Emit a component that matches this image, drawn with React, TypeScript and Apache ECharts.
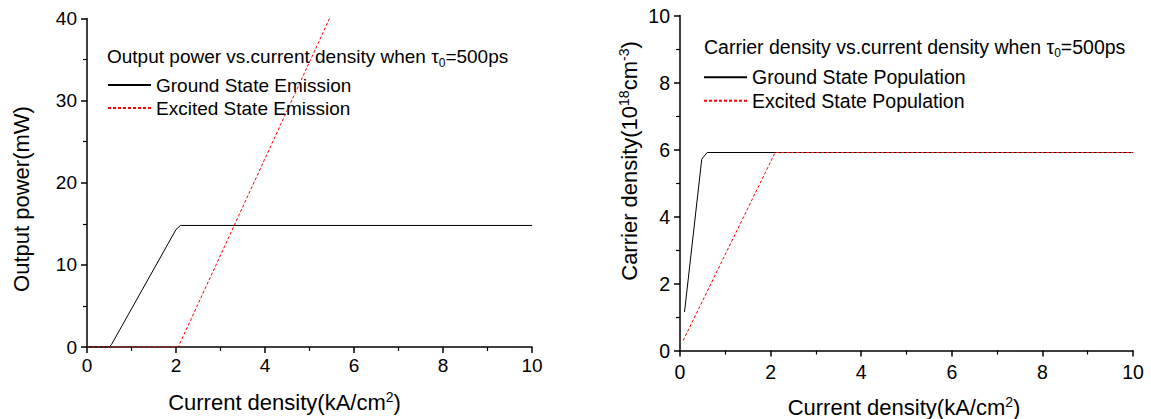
import React, { useEffect, useRef } from "react";
import * as echarts from "echarts";

// Left panel: output power (mW) vs current density (kA/cm²)
const groundEmissionJ = [0, 0.5, 0.55, 2.0, 2.1, 10];
const groundEmissionP = [0, 0, 0.3, 14.3, 14.8, 14.8];
const excitedEmissionJ = [0, 2.05, 5.45];
const excitedEmissionP = [0, 0, 40];

// Right panel: carrier density (10^18 cm^-3) vs current density (kA/cm²)
const groundPopulationJ = [0.1, 0.48, 0.6, 10];
const groundPopulationN = [1.15, 5.71, 5.91, 5.91];
const excitedPopulationJ = [0.07, 2.1, 10];
const excitedPopulationN = [0.3, 5.91, 5.91];

const powerTicks = { min: 0, max: 40, interval: 10 };
const densityTicks = { min: 0, max: 10, interval: 2 };
const currentTicks = { min: 0, max: 10, interval: 2 };

const legendLeft = ["Ground State Emission", "Excited State Emission"];
const legendRight = ["Ground State Population", "Excited State Population"];

const FONT = "'Liberation Sans', Arial, Helvetica, sans-serif";

const pairs = (xs: number[], ys: number[]) => xs.map((x, i) => [x, ys[i]]);

function axisCommon(
  gridIndex: number,
  ticks: { min: number; max: number; interval: number },
  labelMargin: number,
  fontSize: number
) {
  return {
    gridIndex,
    type: "value" as const,
    min: ticks.min,
    max: ticks.max,
    interval: ticks.interval,
    splitLine: { show: false },
    axisLine: { show: true, onZero: false, lineStyle: { color: "#000", width: 1.5 } },
    axisTick: { show: true, inside: false, length: 6, lineStyle: { color: "#000", width: 1.5 } },
    minorTick: { show: true, splitNumber: 2, length: 4, lineStyle: { color: "#000", width: 1.2 } },
    axisLabel: { color: "#000", fontSize, fontFamily: FONT, margin: labelMargin },
  };
}

const mainLeft = { fontSize: 19, fontFamily: FONT, fill: "#000", lineHeight: 24 };
const mainRight = { fontSize: 19.5, fontFamily: FONT, fill: "#000", lineHeight: 24 };
const subText = { fontSize: 12, fontFamily: FONT, fill: "#000", lineHeight: 10, verticalAlign: "bottom" };
const axisText = { fontSize: 22, fontFamily: FONT, fill: "#000", lineHeight: 24 };
const supText = { fontSize: 14, fontFamily: FONT, fill: "#000", lineHeight: 10, verticalAlign: "top" };

function textEl(x: number, y: number, text: string, rich: any, align: string, rotation = 0) {
  return {
    type: "text",
    x,
    y,
    rotation,
    style: { text, rich, align, verticalAlign: "middle", fontFamily: FONT },
  };
}

function legendAt(names: string[], left: number, top: number, gap: number, fontSize: number) {
  return {
    data: names,
    orient: "vertical",
    left,
    top,
    padding: 0,
    itemWidth: 43,
    itemHeight: 14,
    itemGap: gap,
    itemStyle: { opacity: 0 },
    textStyle: { fontSize, fontFamily: FONT, color: "#000", lineHeight: 20 },
    selectedMode: false,
  };
}

export default function App() {
  const ref = useRef<HTMLDivElement>(null);

  useEffect(() => {
    if (!ref.current) return;
    const chart = echarts.init(ref.current, undefined, { renderer: "svg" });
    chart.setOption({
      animation: false,
      backgroundColor: "#fff",
      grid: [
        { left: 87, top: 18.5, width: 445, height: 328.5 },
        { left: 680, top: 15.5, width: 453, height: 335 },
      ],
      xAxis: [axisCommon(0, currentTicks, 9, 19), axisCommon(1, currentTicks, 11, 19.5)],
      yAxis: [axisCommon(0, powerTicks, 10, 19), axisCommon(1, densityTicks, 10, 19.5)],
      legend: [legendAt(legendLeft, 107, 75, 3, 19), legendAt(legendRight, 703, 67.3, 3.4, 19.5)],
      series: [
        {
          name: legendLeft[0],
          type: "line",
          xAxisIndex: 0,
          yAxisIndex: 0,
          data: pairs(groundEmissionJ, groundEmissionP),
          symbol: "none",
          color: "#000",
          lineStyle: { color: "#000", width: 1 },
        },
        {
          name: legendLeft[1],
          type: "line",
          xAxisIndex: 0,
          yAxisIndex: 0,
          data: pairs(excitedEmissionJ, excitedEmissionP),
          symbol: "none",
          color: "#ff0000",
          lineStyle: { color: "#ff0000", width: 1, type: [3, 2] },
        },
        {
          name: legendRight[0],
          type: "line",
          xAxisIndex: 1,
          yAxisIndex: 1,
          data: pairs(groundPopulationJ, groundPopulationN),
          symbol: "none",
          color: "#000",
          lineStyle: { color: "#000", width: 1 },
        },
        {
          name: legendRight[1],
          type: "line",
          xAxisIndex: 1,
          yAxisIndex: 1,
          data: pairs(excitedPopulationJ, excitedPopulationN),
          symbol: "none",
          color: "#ff0000",
          lineStyle: { color: "#ff0000", width: 1, type: [3, 2] },
        },
      ],
      graphic: [
        textEl(107, 56.7, "{m|Output power vs.current density when τ}{s|0}{m|=500ps}", { m: mainLeft, s: subText }, "left"),
        textEl(704, 46.7, "{m|Carrier density vs.current density when τ}{s|0}{m|=500ps}", { m: mainRight, s: subText }, "left"),
        textEl(284.5, 402, "{a|Current density(kA/cm}{p|2}{a|)}", { a: axisText, p: supText }, "center"),
        textEl(904, 407, "{a|Current density(kA/cm}{p|2}{a|)}", { a: axisText, p: supText }, "center"),
        textEl(21, 199, "{a|Output power(mW)}", { a: axisText }, "center", Math.PI / 2),
        textEl(629, 161, "{a|Carrier density(10}{p|18}{a|cm}{p|-3}{a|)}", { a: axisText, p: supText }, "center", Math.PI / 2),
      ],
    });
    return () => chart.dispose();
  }, []);

  return (
    <div
      ref={ref}
      style={{ position: "fixed", left: 0, top: 0, width: 1151, height: 419, background: "#fff" }}
    />
  );
}
